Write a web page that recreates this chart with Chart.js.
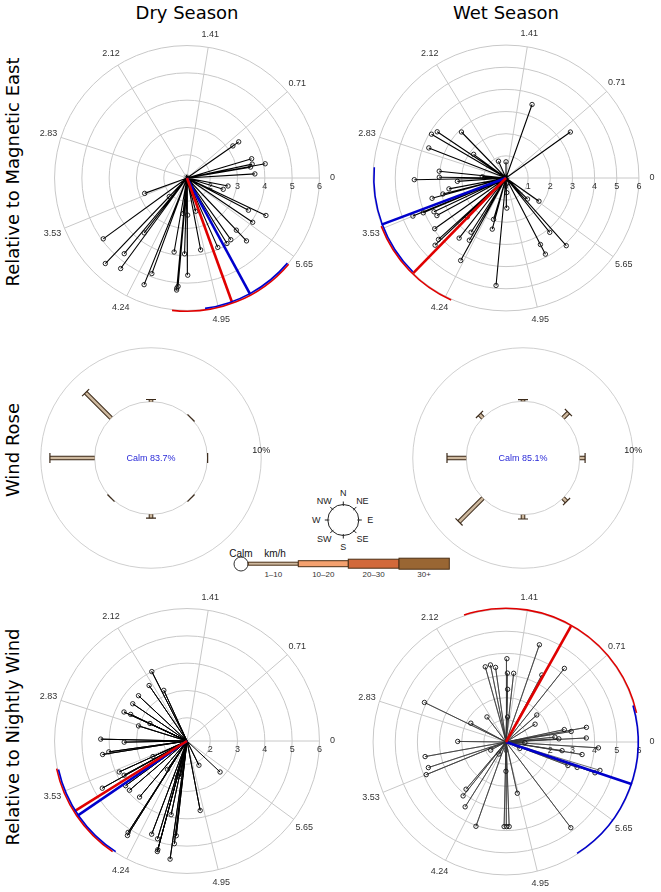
<!DOCTYPE html>
<html>
<head>
<meta charset="utf-8">
<script src="https://cdn.jsdelivr.net/npm/chart.js@4.4.1/dist/chart.umd.min.js"></script>
<style>
    body { margin: 0; width: 661px; height: 892px; overflow: hidden; background: #fff; position: relative; font-family: "DejaVu Sans", sans-serif; }
    canvas { position: absolute; }
    .title { position: absolute; font-size: 18px; white-space: nowrap; transform: translate(-50%, -50%); }
    .side { position: absolute; font-size: 18px; white-space: nowrap; transform: translate(-50%, -50%) rotate(-90deg); }
    svg { position: absolute; }
</style>
</head>
<body>
<div class="title" style="left:187px;top:12px">Dry Season</div>
<div class="title" style="left:506px;top:12px">Wet Season</div>
<div class="side" style="left:12px;top:172px">Relative to Magnetic East</div>
<div class="side" style="left:12px;top:450px">Wind Rose</div>
<div class="side" style="left:12px;top:737px">Relative to Nightly Wind</div>

<svg id="key" width="240" height="130" style="left:220px;top:460px" font-family="Liberation Sans, sans-serif"></svg>

<script>
// angular tick labels (radians)
const spokeLabels = ["0", "0.71", "1.41", "2.12", "2.83", "3.53", "4.24", "4.95", "5.65"];

// Dry season, relative to magnetic east (direction in rad, magnitude)
const dryEastAng = [0.61, 0.61, 0.29, 0.21, 0.18, 0.17, 0.06, 6.09, 5.98, 5.80, 5.84, 5.69, 5.47, 5.47, 5.33, 5.26, 5.13, 4.90,
    4.97, 4.73, 4.60, 4.54, 4.68, 4.72, 4.63, 4.62, 4.62, 4.36, 4.33, 4.08, 4.02, 3.95, 3.77, 3.49, 3.95, 4.05];
const dryEastMag = [3.20, 3.46, 3.62, 3.59, 4.06, 3.51, 3.64, 2.68, 2.54, 3.69, 4.35, 4.05, 3.78, 4.32, 3.92, 3.96, 3.93, 3.83,
    2.41, 2.51, 2.46, 3.90, 3.93, 4.71, 5.13, 5.27, 5.20, 4.88, 5.36, 5.26, 4.75, 5.48, 4.94, 2.80, 2.09, 3.70];
const dryEastMean = [5.06, 5.21];          // red, blue
const dryEastRedArc = [4.60, 5.58];
const dryEastBlueArc = [4.85, 5.58];

// Wet season, relative to magnetic east
const wetEastAng = [1.23, 0.62, 1.99, 1.57, 2.55, 2.61, 2.34, 2.51, 2.77, 3.04, 3.13, 3.16, 3.21, 3.09, 3.33, 3.39, 3.41, 3.53,
    3.54, 3.58, 3.64, 3.76, 3.88, 3.90, 4.05, 4.18, 4.14, 4.21, 3.93, 4.42, 4.45, 4.62, 4.83, 4.76, 4.74, 5.51, 5.67, 5.39, 5.44, 5.19, 5.19];
const wetEastMag = [3.52, 3.57, 0.83, 0.73, 3.74, 3.90, 2.89, 1.81, 3.74, 3.03, 3.01, 4.14, 2.20, 1.07, 2.62, 2.94, 3.46, 4.54,
    4.05, 3.59, 3.55, 3.95, 4.12, 4.41, 3.44, 3.26, 2.91, 4.25, 2.48, 1.95, 2.39, 4.87, 0.25, 0.66, 1.36, 1.36, 1.82, 3.15, 4.09, 3.38, 3.87];
const wetEastMean = [3.94, 3.50];
const wetEastRedArc = [3.51, 4.29];
const wetEastBlueArc = [3.06, 3.93];

// Dry season, relative to nightly wind
const dryNightAng = [2.04, 2.17, 2.00, 2.39, 2.54, 2.71, 2.70, 2.84, 2.70, 3.12, 3.16, 3.30, 3.28, 3.57, 3.64, 3.65, 3.77, 3.85,
    4.01, 3.57, 4.11, 4.14, 4.15, 4.35, 4.42, 4.45, 4.45, 4.57, 4.59, 4.60, 4.50, 4.53, 4.41, 4.90, 5.17, 5.53];
const dryNightMag = [4.00, 3.61, 3.19, 3.58, 3.56, 3.69, 3.43, 3.01, 2.65, 4.31, 3.45, 4.28, 4.04, 3.88, 3.77, 4.70, 3.93, 3.92,
    3.84, 2.52, 2.41, 5.13, 5.24, 4.80, 4.89, 5.27, 5.34, 5.52, 4.94, 4.64, 3.91, 2.47, 2.55, 3.74, 2.14, 2.81];
const dryNightMean = [3.70, 3.74];
const dryNightRedArc = [3.35, 4.12];
const dryNightBlueArc = [3.36, 4.14];

// Wet season, relative to nightly wind
const wetNightAng = [1.24, 0.90, 1.56, 1.84, 1.77, 1.71, 1.55, 1.46, 1.54, 1.51, 1.08, 0.72, 0.55, 2.22, 2.65, 2.69, 3.13, 3.32,
    3.46, 3.53, 4.01, 4.04, 4.15, 4.37, 4.69, 4.72, 4.75, 4.71, 4.93, 5.36, 3.63, 4.18, 5.85, 6.25, 0.21, 0.16, 0.18, 0.05,
    0.10, 0.06, 6.22, 6.13, 6.12, 5.92, 5.94, 5.95, 5.99];
const wetNightMag = [4.64, 4.24, 3.76, 3.52, 3.55, 3.40, 3.11, 3.12, 2.38, 1.13, 3.43, 1.85, 1.54, 1.42, 1.80, 4.09, 2.18, 3.71,
    3.69, 3.89, 2.79, 3.11, 3.46, 4.04, 3.82, 3.82, 3.82, 1.32, 2.37, 4.85, 0.78, 0.63, 0.69, 0.85, 2.69, 2.98, 3.69, 3.63,
    2.22, 2.39, 4.18, 2.56, 3.48, 2.99, 3.41, 4.25, 4.43];
const wetNightMean = [1.06, 5.96];
const wetNightRedArc = [0.22, 1.89];
const wetNightBlueArc = [5.28, 0.28];

// Wind rose (% of time per direction, 1-10 km/h class)
const roseDirs = ["N", "NE", "E", "SE", "S", "SW", "W", "NW"];
const dryRose = [0.4, 0.05, 0.05, 0.05, 0.7, 0.05, 8.3, 6.7];
const wetRose = [0.3, 1.4, 1.0, 0.9, 0.8, 6.3, 3.6, 0.9];
const calmPct = [83.7, 85.1];
const speedBins = ["1\u201310", "10\u201320", "20\u201330", "30+"];
const speedColors = ["#cdb89e", "#f4a16f", "#d2693a", "#996633"];

// ---------- polar panels ----------
function polarChart(p) {
    const S = 330, half = S / 2;
    const cv = document.createElement("canvas");
    cv.width = S; cv.height = S;
    cv.style.left = (p.cx - half) + "px";
    cv.style.top = (p.cy - half) + "px";
    document.body.appendChild(cv);

    const L = half * (6 - p.v0) / p.R;
    const xy = (a, m) => ({ x: (m - p.v0) * Math.cos(a), y: (m - p.v0) * Math.sin(a) });

    let spokes = [];
    p.ang.forEach((a, i) => {
        spokes.push({ x: 0, y: 0 });
        spokes.push(xy(a, p.mag[i]));
    });

    const grid = {
        id: "polarGrid",
        beforeDatasetsDraw(chart) {
            const { ctx, scales: { x, y } } = chart;
            const cx = x.getPixelForValue(0), cy = y.getPixelForValue(0);
            const rad = v => x.getPixelForValue(v - p.v0) - cx;
            const R = rad(6);
            ctx.save();
            ctx.strokeStyle = "#c8c8c8";
            ctx.lineWidth = 1;
            p.rings.forEach(v => {
                ctx.beginPath();
                ctx.arc(cx, cy, rad(v), 0, 2 * Math.PI);
                ctx.stroke();
            });
            ctx.fillStyle = "#333";
            ctx.font = '9px "Liberation Sans", sans-serif';
            ctx.textAlign = "center";
            ctx.textBaseline = "middle";
            spokeLabels.forEach(l => {
                const a = parseFloat(l);
                ctx.beginPath();
                ctx.moveTo(cx, cy);
                ctx.lineTo(cx + R * Math.cos(a), cy - R * Math.sin(a));
                ctx.stroke();
                ctx.fillText(l, cx + (R + 13) * Math.cos(a), cy - (R + 13) * Math.sin(a));
            });
            p.ringLabels.forEach(v => {
                ctx.fillText(String(v), cx + rad(v), cy + 9);
            });
            ctx.restore();
        },
        afterDatasetsDraw(chart) {
            const { ctx, scales: { x, y } } = chart;
            const cx = x.getPixelForValue(0), cy = y.getPixelForValue(0);
            const R = x.getPixelForValue(6 - p.v0) - cx;
            const arc = (range, col, r) => {
                let a1 = range[0], a2 = range[1];
                if (a2 < a1) a2 += 2 * Math.PI;
                ctx.beginPath();
                ctx.strokeStyle = col;
                ctx.lineWidth = 1.6;
                ctx.arc(cx, cy, r, -a1, -a2, true);
                ctx.stroke();
            };
            ctx.save();
            arc(p.redArc, "#e00000", R + 0.8);
            arc(p.blueArc, "#0000cc", R - 0.8);
            ctx.restore();
        }
    };

    new Chart(cv, {
        type: "scatter",
        data: {
            datasets: [
                {
                    data: [{ x: 0, y: 0 }, xy(p.mean[0], 6)],
                    showLine: true, borderColor: "#e00000", borderWidth: 2.6, pointRadius: 0, order: 0
                },
                {
                    data: [{ x: 0, y: 0 }, xy(p.mean[1], 6)],
                    showLine: true, borderColor: "#0000cc", borderWidth: 2.6, pointRadius: 0, order: 0
                },
                {
                    data: spokes,
                    showLine: true,
                    borderColor: p.lineColor,
                    borderWidth: p.lineW,
                    pointRadius: spokes.map((d, i) => (i % 2 ? 2.2 : 0)),
                    pointBorderColor: "#111",
                    pointBackgroundColor: "rgba(0,0,0,0)",
                    pointBorderWidth: 0.9,
                    order: 1
                }
            ]
        },
        options: {
            responsive: false,
            animation: false,
            events: [],
            layout: { padding: 0 },
            plugins: { legend: { display: false }, tooltip: { enabled: false } },
            scales: {
                x: { type: "linear", min: -L, max: L, display: false },
                y: { type: "linear", min: -L, max: L, display: false }
            }
        },
        plugins: [grid]
    });
}

// ---------- wind roses ----------
function roseChart(p) {
    const S = 250, half = S / 2;
    const cv = document.createElement("canvas");
    cv.width = S; cv.height = S;
    cv.style.left = (p.cx - half) + "px";
    cv.style.top = (p.cy - half) + "px";
    document.body.appendChild(cv);

    const k = (p.ringR - p.calmR) / 10;   // px per percent
    const L = half / k;
    const r0 = p.calmR / k;
    const datasets = [];
    roseDirs.forEach((d, i) => {
        const phi = (90 - 45 * i) * Math.PI / 180;
        const a = { x: r0 * Math.cos(phi), y: r0 * Math.sin(phi) };
        const b = { x: (r0 + p.vals[i]) * Math.cos(phi), y: (r0 + p.vals[i]) * Math.sin(phi) };
        datasets.push({
            data: [a, b], showLine: true, borderColor: "#3b2a1a", borderWidth: 4.6,
            pointRadius: 0, order: 2
        });
        datasets.push({
            data: [a, b], showLine: true, borderColor: speedColors[0], borderWidth: 2.6,
            pointRadius: [0, 5], pointStyle: "line", pointRotation: 90 - (90 - 45 * i),
            pointBorderColor: "#3b2a1a", pointBorderWidth: 1.2, order: 1
        });
    });

    const grid = {
        id: "roseGrid",
        beforeDatasetsDraw(chart) {
            const { ctx, scales: { x, y } } = chart;
            const cx = x.getPixelForValue(0), cy = y.getPixelForValue(0);
            const rIn = x.getPixelForValue(r0) - cx;
            const rOut = x.getPixelForValue(r0 + 10) - cx;
            ctx.save();
            ctx.strokeStyle = "#cfcfcf";
            ctx.lineWidth = 1;
            [rIn, rOut].forEach(r => {
                ctx.beginPath();
                ctx.arc(cx, cy, r, 0, 2 * Math.PI);
                ctx.stroke();
            });
            ctx.font = '9px "Liberation Sans", sans-serif';
            ctx.textAlign = "center";
            ctx.textBaseline = "middle";
            ctx.fillStyle = "#222";
            ctx.fillText("10%", cx + rOut, cy - 7);
            ctx.fillStyle = "#2a2ad8";
            ctx.fillText("Calm " + p.calm.toFixed(1) + "%", cx, cy + 1);
            ctx.restore();
        }
    };

    new Chart(cv, {
        type: "scatter",
        data: { datasets: datasets },
        options: {
            responsive: false,
            animation: false,
            events: [],
            layout: { padding: 0 },
            plugins: { legend: { display: false }, tooltip: { enabled: false } },
            scales: {
                x: { type: "linear", min: -L, max: L, display: false },
                y: { type: "linear", min: -L, max: L, display: false }
            }
        },
        plugins: [grid]
    });
}

polarChart({ cx: 187, cy: 178.3, R: 136.5, v0: 1.15, rings: [2, 3, 4, 5, 6], ringLabels: [2, 3, 4, 5, 6],
    ang: dryEastAng, mag: dryEastMag, mean: dryEastMean, redArc: dryEastRedArc, blueArc: dryEastBlueArc,
    lineColor: "#000", lineW: 1.1 });
polarChart({ cx: 506, cy: 178.3, R: 137, v0: 0, rings: [1, 2, 3, 4, 5, 6], ringLabels: [0, 1, 2, 3, 4, 5, 6],
    ang: wetEastAng, mag: wetEastMag, mean: wetEastMean, redArc: wetEastRedArc, blueArc: wetEastBlueArc,
    lineColor: "#000", lineW: 1.1 });
polarChart({ cx: 187, cy: 740.7, R: 136.5, v0: 1.15, rings: [2, 3, 4, 5, 6], ringLabels: [2, 3, 4, 5, 6],
    ang: dryNightAng, mag: dryNightMag, mean: dryNightMean, redArc: dryNightRedArc, blueArc: dryNightBlueArc,
    lineColor: "#000", lineW: 1.0 });
polarChart({ cx: 505.7, cy: 741.5, R: 137, v0: 0, rings: [1, 2, 3, 4, 5, 6], ringLabels: [0, 2, 3, 4, 5, 6],
    ang: wetNightAng, mag: wetNightMag, mean: wetNightMean, redArc: wetNightRedArc, blueArc: wetNightBlueArc,
    lineColor: "#333", lineW: 0.7 });

roseChart({ cx: 150.7, cy: 458.3, calmR: 59.3, ringR: 116, vals: dryRose, calm: calmPct[0] });
roseChart({ cx: 522.7, cy: 457.7, calmR: 59.7, ringR: 116, vals: wetRose, calm: calmPct[1] });

// ---------- key: compass + speed classes ----------
function drawKey() {
    const ns = "http://www.w3.org/2000/svg";
    const svg = document.getElementById("key");
    const add = (tag, attrs, text) => {
        const el = document.createElementNS(ns, tag);
        for (const k in attrs) el.setAttribute(k, attrs[k]);
        if (text) el.textContent = text;
        svg.appendChild(el);
        return el;
    };
    const cx = 123.3, cy = 60, r = 15.5;
    add("circle", { cx: cx, cy: cy, r: r, fill: "none", stroke: "#222", "stroke-width": 1 });
    roseDirs.forEach((d, i) => {
        const phi = (90 - 45 * i) * Math.PI / 180;
        const c = Math.cos(phi), s = Math.sin(phi);
        add("line", { x1: cx + (r - 1.5) * c, y1: cy - (r - 1.5) * s, x2: cx + (r + 3) * c, y2: cy - (r + 3) * s,
            stroke: "#222", "stroke-width": 1 });
        add("text", { x: cx + 27 * c, y: cy - 27 * s + 3, "font-size": 9, "text-anchor": "middle", fill: "#222" }, d);
    });
    add("circle", { cx: 21, cy: 104, r: 7, fill: "#fff", stroke: "#333", "stroke-width": 1 });
    add("text", { x: 21, y: 97, "font-size": 10, "text-anchor": "middle", fill: "#111" }, "Calm");
    add("text", { x: 55, y: 97, "font-size": 10, "text-anchor": "middle", fill: "#111" }, "km/h");
    const heights = [3, 6, 9, 11];
    const x0 = [28.3, 78.3, 128.3, 179], w = [50, 50, 50.7, 50.3];
    speedBins.forEach((b, i) => {
        add("rect", { x: x0[i], y: 103.7 - heights[i] / 2, width: w[i], height: heights[i],
            fill: speedColors[i], stroke: "#4a2f16", "stroke-width": 1 });
        add("text", { x: x0[i] + w[i] / 2, y: 117, "font-size": 8, "text-anchor": "middle", fill: "#333" }, b);
    });
}
drawKey();
</script>
</body>
</html>
